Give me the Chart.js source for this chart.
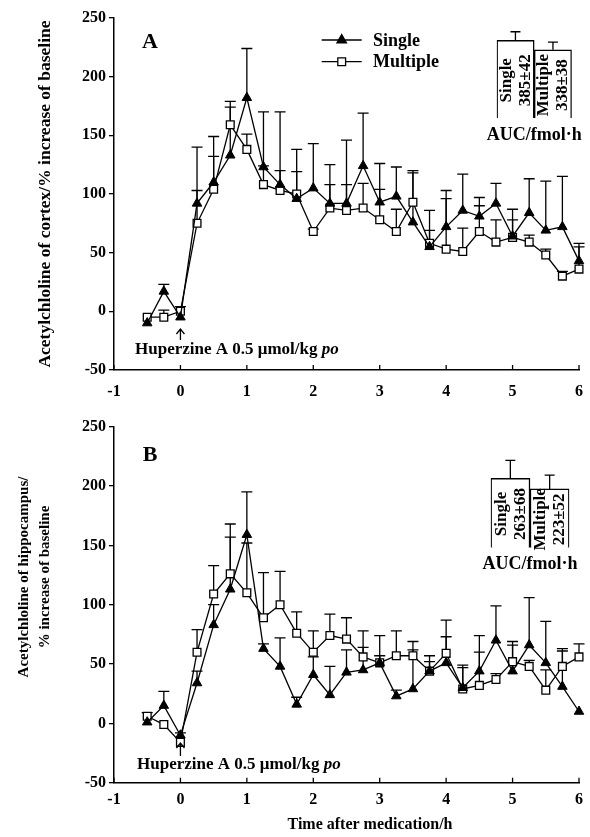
<!DOCTYPE html>
<html>
<head>
<meta charset="utf-8">
<script src="https://cdn.jsdelivr.net/npm/chart.js@4.4.1/dist/chart.umd.min.js"></script>
<style>
  body { margin: 0; background: #fff; width: 590px; height: 837px; position: relative; overflow: hidden; }
  canvas { position: absolute; }
</style>
</head>
<body>
<canvas id="chartA" width="590" height="410" style="left:0;top:0"></canvas>
<canvas id="chartB" width="590" height="427" style="left:0;top:410px"></canvas>
<canvas id="aucA" width="120" height="130" style="left:470px;top:20px"></canvas>
<canvas id="aucB" width="125" height="135" style="left:465px;top:445px"></canvas>
<script>
// time points (h)
const times = [-0.5, -0.25, 0, 0.25, 0.5, 0.75, 1, 1.25, 1.5, 1.75, 2, 2.25, 2.5, 2.75, 3,
  3.25, 3.5, 3.75, 4, 4.25, 4.5, 4.75, 5, 5.25, 5.5, 5.75, 6];

// panel A - cortex
const cortexSingle = [-10, 17, -5, 92, 110, 133, 182, 123, 108, 96, 105, 92, 92, 124, 93,
  98, 76, 55, 72, 86, 81, 92, 64, 84, 69, 72, 43];
const cortexSingleErr = [0, 6, 0, 48, 39, 41, 42, 47, 62, 42, 38, 33, 54, 45, 33,
  25, 42, 31, 31, 31, 16, 17, 23, 29, 42, 43, 15];
const cortexMultiple = [-5, -5, 0, 75, 104, 159, 138, 108, 103, 100, 68, 88, 86, 88, 78,
  68, 93, 58, 53, 51, 68, 59, 63, 59, 48, 30, 36];
const cortexMultipleErr = [0, 6, 4, 28, 28, 20, 13, 16, 17, 19, 2, 20, 22, 21, 26,
  19, 27, 11, 43, 20, 22, 19, 15, 6, 5, 4, 19];

// panel B - hippocampus
const hippoSingle = [1, 15, -10, 34, 83, 113, 159, 63, 48, 16, 41, 24, 43, 45, 51,
  23, 29, 44, 51, 30, 44, 70, 44, 66, 51, 31, 10];
const hippoSingleErr = [0, 12, 2, 10, 17, 44, 36, 4, 24, 6, 15, 24, 19, 19, 6,
  5, 40, 8, 22, 17, 30, 29, 22, 40, 35, 30, 0];
const hippoMultiple = [6, -1, -16, 60, 109, 126, 110, 89, 100, 76, 60, 74, 71, 56, 51,
  57, 57, 44, 59, 29, 32, 37, 52, 48, 28, 48, 56];
const hippoMultipleErr = [3, 0, 0, 19, 24, 42, 42, 38, 28, 18, 18, 18, 18, 22, 23,
  21, 5, 13, 28, 20, 28, 5, 17, 5, 17, 15, 11];

// AUC insets
const aucLabels = ['Single', 'Multiple'];
const aucCortex = [385, 338];
const aucCortexErr = [42, 38];
const aucHippo = [263, 223];
const aucHippoErr = [68, 52];

const xTicks = [-1, 0, 1, 2, 3, 4, 5, 6];
const yTicks = [-50, 0, 50, 100, 150, 200, 250];

const SERIF = '"Liberation Serif", "Times New Roman", serif';
Chart.defaults.font.family = SERIF;
Chart.defaults.font.weight = 'bold';
Chart.defaults.color = '#000';

function pts(vals) {
  return vals.map((v, i) => ({ x: times[i], y: v }));
}

// upper error bars (T) under the markers
const errorBars = {
  id: 'errorBars',
  beforeDatasetsDraw(chart) {
    const { ctx, scales: { x, y } } = chart;
    ctx.save();
    ctx.strokeStyle = '#000';
    ctx.lineWidth = 1.3;
    chart.data.datasets.forEach(ds => {
      if (!ds.errors) return;
      ds.data.forEach((p, i) => {
        const e = ds.errors[i];
        if (!e) return;
        const px = x.getPixelForValue(p.x);
        const y0 = y.getPixelForValue(p.y);
        const y1 = y.getPixelForValue(p.y + e);
        ctx.beginPath();
        ctx.moveTo(px, y0); ctx.lineTo(px, y1);
        ctx.moveTo(px - 5.5, y1); ctx.lineTo(px + 5.5, y1);
        ctx.stroke();
      });
    });
    ctx.restore();
  }
};

// inward x ticks, labels, arrow, legend
const decor = {
  id: 'decor',
  afterDraw(chart, args, o) {
    const { ctx, chartArea, scales: { x } } = chart;
    ctx.save();
    ctx.strokeStyle = '#000';
    ctx.fillStyle = '#000';
    ctx.lineWidth = 1.3;
    // x ticks pointing inward
    xTicks.forEach(v => {
      const px = x.getPixelForValue(v);
      ctx.beginPath();
      ctx.moveTo(px, chartArea.bottom);
      ctx.lineTo(px, chartArea.bottom - 5);
      ctx.stroke();
    });
    // panel letter
    ctx.font = 'bold 22px ' + SERIF;
    ctx.textBaseline = 'middle';
    ctx.textAlign = 'center';
    ctx.fillText(o.letter, o.letterX, o.letterY);
    // dosing arrow at t = 0
    const ax = x.getPixelForValue(0);
    ctx.beginPath();
    ctx.moveTo(ax, o.arrowBottom);
    ctx.lineTo(ax, o.arrowTop);
    ctx.moveTo(ax - 4, o.arrowTop + 5);
    ctx.lineTo(ax, o.arrowTop);
    ctx.lineTo(ax + 4, o.arrowTop + 5);
    ctx.stroke();
    // dose text
    ctx.textAlign = 'left';
    ctx.font = 'bold 17px ' + SERIF;
    const t1 = 'Huperzine A 0.5 \u03bcmol/kg ';
    ctx.fillText(t1, o.doseX, o.doseY);
    const w = ctx.measureText(t1).width;
    ctx.font = 'italic bold 17px ' + SERIF;
    ctx.fillText('po', o.doseX + w, o.doseY);
    // legend
    if (o.legend) {
      ctx.font = 'bold 18px ' + SERIF;
      chart.data.datasets.forEach((ds, i) => {
        const ly = 40 + i * 21.7;
        ctx.beginPath();
        ctx.moveTo(321.7, ly); ctx.lineTo(361.7, ly);
        ctx.stroke();
        ctx.fillStyle = ds.pointBackgroundColor;
        ctx.strokeStyle = '#000';
        Chart.helpers.drawPoint(ctx, { pointStyle: ds.pointStyle, radius: ds.pointRadius, rotation: 0, borderWidth: 1.3 }, 341.7, ly);
        ctx.fillStyle = '#000';
        ctx.fillText(ds.label, 373, ly + 1);
      });
    }
    // custom y title (two lines, panel B)
    if (o.yTitle) {
      ctx.font = 'bold 15px ' + SERIF;
      ctx.textAlign = 'center';
      o.yTitle.forEach((line, i) => {
        ctx.save();
        ctx.translate(o.yTitleX[i], o.yTitleY);
        ctx.rotate(-Math.PI / 2);
        ctx.fillText(line, 0, 0);
        ctx.restore();
      });
    }
    if (o.xTitle) {
      ctx.font = 'bold 16px ' + SERIF;
      ctx.textAlign = 'center';
      ctx.fillText(o.xTitle, o.xTitleX, o.xTitleY);
    }
    ctx.restore();
  }
};

function mainChart(id, single, singleErr, multiple, multipleErr, cfg) {
  return new Chart(document.getElementById(id), {
    type: 'line',
    data: {
      datasets: [
        {
          label: 'Single', data: pts(single), errors: singleErr,
          borderColor: '#000', borderWidth: 1.3, clip: false,
          pointStyle: 'triangle', pointRadius: 5.5,
          pointBackgroundColor: '#000', pointBorderColor: '#000', pointBorderWidth: 1
        },
        {
          label: 'Multiple', data: pts(multiple), errors: multipleErr,
          borderColor: '#000', borderWidth: 1.3, clip: false,
          pointStyle: 'rect', pointRadius: 5.5,
          pointBackgroundColor: '#fff', pointBorderColor: '#000', pointBorderWidth: 1.3
        }
      ]
    },
    options: {
      responsive: false,
      animation: false,
      layout: { padding: { left: 0, right: 11, top: cfg.top, bottom: 0 } },
      plugins: { legend: { display: false }, tooltip: { enabled: false }, decor: cfg.decor },
      scales: {
        x: {
          type: 'linear', min: -1, max: 6,
          afterBuildTicks: s => { s.ticks = xTicks.map(v => ({ value: v })); },
          ticks: { font: { size: 16 }, padding: cfg.xPad },
          grid: { drawOnChartArea: false, drawTicks: false },
          border: { color: '#000', width: 1.5 },
          afterFit: s => { s.height = cfg.xHeight; s.paddingRight = 4; s.paddingLeft = 0; }
        },
        y: {
          min: -50, max: 250,
          afterBuildTicks: s => { s.ticks = yTicks.map(v => ({ value: v })); },
          ticks: { font: { size: 16 }, padding: 3 },
          grid: { drawOnChartArea: false, drawTicks: true, tickLength: 5, color: '#000', lineWidth: 1.3 },
          border: { color: '#000', width: 1.5 },
          title: cfg.yTitle,
          afterFit: s => { s.width = 114; }
        }
      }
    },
    plugins: [errorBars, decor]
  });
}

mainChart('chartA', cortexSingle, cortexSingleErr, cortexMultiple, cortexMultipleErr, {
  top: 18, xHeight: 40, xPad: 12,
  yTitle: {
    display: true, text: 'Acetylchloline of cortex/% increase of baseline',
    font: { size: 17.5, weight: 'bold' }, padding: { top: 34.5, bottom: 0 }
  },
  decor: {
    letter: 'A', letterX: 150, letterY: 42.5, legend: true,
    arrowTop: 329, arrowBottom: 340, doseX: 135, doseY: 350
  }
});

mainChart('chartB', hippoSingle, hippoSingleErr, hippoMultiple, hippoMultipleErr, {
  top: 16.7, xHeight: 54.3, xPad: 8,
  yTitle: { display: false },
  decor: {
    letter: 'B', letterX: 150, letterY: 45, legend: false,
    arrowTop: 333, arrowBottom: 346, doseX: 137, doseY: 355,
    yTitle: ['Acetylchloline of hippocampus/', '% increase of baseline'],
    yTitleX: [24, 45], yTitleY: 167,
    xTitle: 'Time after medication/h', xTitleX: 370, xTitleY: 415
  }
});

// AUC inset: bars with upper error and rotated text
const aucDecor = {
  id: 'aucDecor',
  afterDatasetsDraw(chart) {
    const { ctx, chartArea, scales: { y } } = chart;
    const ds = chart.data.datasets[0];
    const meta = chart.getDatasetMeta(0);
    ctx.save();
    ctx.strokeStyle = '#000';
    ctx.fillStyle = '#000';
    ctx.lineWidth = 1.3;
    meta.data.forEach((bar, i) => {
      const v = ds.data[i];
      const yTop = y.getPixelForValue(v);
      const yErr = y.getPixelForValue(v + ds.errors[i]);
      ctx.beginPath();
      ctx.moveTo(bar.x, yTop); ctx.lineTo(bar.x, yErr);
      ctx.moveTo(bar.x - 5, yErr); ctx.lineTo(bar.x + 5, yErr);
      ctx.stroke();
      const cy = (yTop + chartArea.bottom) / 2 + 1;
      ctx.font = 'bold 17px ' + SERIF;
      ctx.textAlign = 'center';
      ctx.textBaseline = 'middle';
      [chart.data.labels[i], v + '\u00b1' + ds.errors[i]].forEach((line, j) => {
        ctx.save();
        ctx.translate(bar.x - 9 + j * 19, cy);
        ctx.rotate(-Math.PI / 2);
        ctx.fillText(line, 0, 0);
        ctx.restore();
      });
    });
    ctx.font = 'bold 18px ' + SERIF;
    ctx.textAlign = 'center';
    ctx.fillText('AUC/fmol\u00b7h', (chartArea.left + chartArea.right) / 2, chartArea.bottom + 17);
    ctx.restore();
  }
};

function aucChart(id, vals, errs, yMax, pad) {
  return new Chart(document.getElementById(id), {
    type: 'bar',
    data: {
      labels: aucLabels,
      datasets: [{
        data: vals, errors: errs,
        backgroundColor: '#fff', borderColor: '#000', borderWidth: 1.5,
        barPercentage: 1, categoryPercentage: 1
      }]
    },
    options: {
      responsive: false,
      animation: false,
      layout: { padding: pad },
      plugins: { legend: { display: false }, tooltip: { enabled: false } },
      scales: {
        x: { display: false },
        y: { display: false, min: 0, max: yMax }
      }
    },
    plugins: [aucDecor]
  });
}

aucChart('aucA', aucCortex, aucCortexErr, 450, { left: 26.7, right: 18.3, top: 7.1, bottom: 31.7 });
aucChart('aucB', aucHippo, aucHippoErr, 350, { left: 25.7, right: 20.7, top: 10.4, bottom: 32.3 });
</script>
</body>
</html>
